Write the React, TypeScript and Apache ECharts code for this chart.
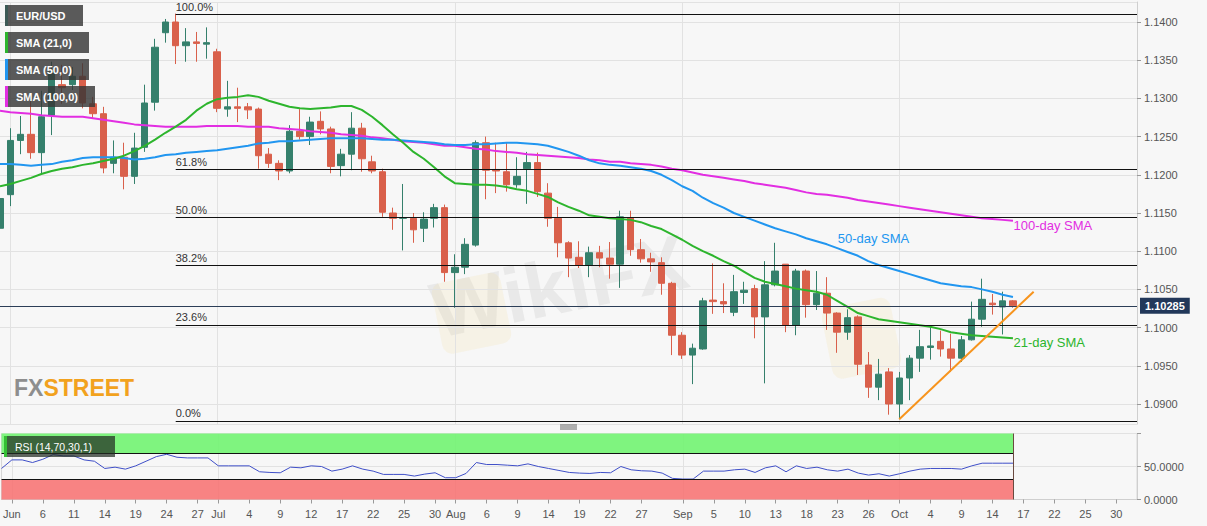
import React, { useEffect, useRef } from 'react';
import * as echarts from 'echarts';

// ---------- categories (trading days, May 31 .. Nov 1 2019) ----------
const CATEGORIES = [
  '05-31',
  '06-03','06-04','06-05','06-06','06-07','06-10','06-11','06-12','06-13','06-14',
  '06-17','06-18','06-19','06-20','06-21','06-24','06-25','06-26','06-27','06-28',
  '07-01','07-02','07-03','07-04','07-05','07-08','07-09','07-10','07-11','07-12',
  '07-15','07-16','07-17','07-18','07-19','07-22','07-23','07-24','07-25','07-26',
  '07-29','07-30','07-31',
  '08-01','08-02','08-05','08-06','08-07','08-08','08-09','08-12','08-13','08-14',
  '08-15','08-16','08-19','08-20','08-21','08-22','08-23','08-26','08-27','08-28',
  '08-29','08-30',
  '09-02','09-03','09-04','09-05','09-06','09-09','09-10','09-11','09-12','09-13',
  '09-16','09-17','09-18','09-19','09-20','09-23','09-24','09-25','09-26','09-27','09-30',
  '10-01','10-02','10-03','10-04','10-07','10-08','10-09','10-10','10-11','10-14',
  '10-15','10-16','10-17','10-18','10-21','10-22','10-23','10-24','10-25','10-28',
  '10-29','10-30','10-31',
  '11-01'
];

// ---------- tick labels ----------
const TICK_DAYS = [
  '06-03','06-06','06-11','06-14','06-19','06-24','06-27',
  '07-01','07-04','07-09','07-12','07-17','07-22','07-25','07-30',
  '08-01','08-06','08-09','08-14','08-19','08-22','08-27',
  '09-02','09-05','09-10','09-13','09-18','09-23','09-26',
  '10-01','10-04','10-09','10-14','10-17','10-22','10-25','10-30'
];
const MONTH_LABELS: Record<string, string> = {
  '06-03': 'Jun', '07-01': 'Jul', '08-01': 'Aug', '09-02': 'Sep', '10-01': 'Oct'
};
const MONTH_STARTS = ['06-03', '07-01', '08-01', '09-02', '10-01'];

// ---------- OHLC (May 31 .. Oct 16) ----------
const OPEN = [
  1.1130, 1.1174, 1.1245, 1.1253, 1.1229, 1.1278, 1.1318, 1.1318, 1.1329, 1.1293,
  1.1280, 1.1215, 1.1223, 1.1198, 1.1236, 1.1295, 1.1386, 1.1400, 1.1369, 1.1374,
  1.1371, 1.1361, 1.1286, 1.1289, 1.1289, 1.1286, 1.1227, 1.1215, 1.1205, 1.1257,
  1.1250, 1.1270, 1.1260, 1.1212, 1.1227, 1.1261, 1.1217, 1.1204, 1.1150, 1.1143,
  1.1143, 1.1130, 1.1143, 1.1157, 1.1072, 1.1079, 1.1108, 1.1242, 1.1207, 1.1204,
  1.1187, 1.1208, 1.1216, 1.1176, 1.1143, 1.1111, 1.1092, 1.1082, 1.1098, 1.1091,
  1.1083, 1.1144, 1.1102, 1.1090, 1.1085, 1.1058, 1.0990, 1.0964, 1.0972, 1.1036,
  1.1034, 1.1020, 1.1046, 1.1051, 1.1014, 1.1056, 1.1083, 1.1003, 1.1074, 1.1030,
  1.1045, 1.1019, 1.0994, 1.1014, 1.0951, 1.0922, 1.0942, 1.0900, 1.0934, 1.0960,
  1.0974, 1.0982, 1.0972, 1.0960, 1.0984, 1.1011, 1.1032, 1.1027, 1.1035
];
const HIGH = [
  1.1182, 1.1261, 1.1277, 1.1306, 1.1310, 1.1348, 1.1344, 1.1341, 1.1346, 1.1302,
  1.1289, 1.1245, 1.1242, 1.1255, 1.1318, 1.1378, 1.1404, 1.1411, 1.1392, 1.1387,
  1.1393, 1.1365, 1.1323, 1.1314, 1.1294, 1.1288, 1.1235, 1.1219, 1.1265, 1.1286,
  1.1276, 1.1283, 1.1263, 1.1234, 1.1282, 1.1268, 1.1225, 1.1208, 1.1157, 1.1188,
  1.1150, 1.1151, 1.1162, 1.1161, 1.1096, 1.1117, 1.1245, 1.1250, 1.1242, 1.1242,
  1.1223, 1.1230, 1.1229, 1.1189, 1.1158, 1.1113, 1.1113, 1.1106, 1.1107, 1.1112,
  1.1153, 1.1153, 1.1116, 1.1098, 1.1092, 1.1060, 1.0994, 1.0979, 1.1039, 1.1084,
  1.1058, 1.1069, 1.1060, 1.1056, 1.1087, 1.1111, 1.1083, 1.1077, 1.1076, 1.1074,
  1.1066, 1.1020, 1.1024, 1.1016, 1.0968, 1.0959, 1.0947, 1.0942, 1.0964, 1.0997,
  1.1001, 1.0996, 1.0992, 1.0989, 1.1034, 1.1064, 1.1044, 1.1047, 1.1036
];
const LOW = [
  1.1117, 1.1159, 1.1227, 1.1221, 1.1202, 1.1252, 1.1293, 1.1311, 1.1287, 1.1274,
  1.1202, 1.1202, 1.1181, 1.1188, 1.1230, 1.1284, 1.1373, 1.1345, 1.1348, 1.1348,
  1.1352, 1.1282, 1.1276, 1.1269, 1.1273, 1.1208, 1.1209, 1.1193, 1.1202, 1.1246,
  1.1239, 1.1253, 1.1202, 1.1198, 1.1206, 1.1204, 1.1202, 1.1145, 1.1128, 1.1101,
  1.1111, 1.1112, 1.1131, 1.1060, 1.1026, 1.1070, 1.1106, 1.1168, 1.1176, 1.1178,
  1.1183, 1.1162, 1.1171, 1.1132, 1.1092, 1.1066, 1.1078, 1.1066, 1.1079, 1.1064,
  1.1052, 1.1094, 1.1085, 1.1073, 1.1043, 1.0964, 1.0959, 1.0926, 1.0971, 1.1018,
  1.1019, 1.1015, 1.1031, 1.0986, 1.0927, 1.1054, 1.0994, 1.0990, 1.1013, 1.1023,
  1.0997, 1.0967, 1.0984, 1.0938, 1.0908, 1.0905, 1.0886, 1.0880, 1.0905, 1.0942,
  1.0958, 1.0962, 1.0942, 1.0955, 1.0983, 1.1001, 1.1017, 1.0991, 1.1026
];
const CLOSE = [
  1.1169, 1.1245, 1.1253, 1.1229, 1.1276, 1.1335, 1.1314, 1.1329, 1.1294, 1.1280,
  1.1209, 1.1223, 1.1198, 1.1235, 1.1294, 1.1367, 1.1400, 1.1369, 1.1374, 1.1372,
  1.1373, 1.1287, 1.1289, 1.1287, 1.1285, 1.1225, 1.1215, 1.1205, 1.1257, 1.1250,
  1.1269, 1.1260, 1.1211, 1.1227, 1.1261, 1.1221, 1.1205, 1.1151, 1.1143, 1.1144,
  1.1128, 1.1142, 1.1157, 1.1072, 1.1079, 1.1109, 1.1242, 1.1206, 1.1205, 1.1187,
  1.1198, 1.1216, 1.1178, 1.1143, 1.1111, 1.1091, 1.1082, 1.1098, 1.1091, 1.1083,
  1.1145, 1.1102, 1.1090, 1.1086, 1.1058, 1.0990, 1.0964, 1.0973, 1.1035, 1.1034,
  1.1031, 1.1047, 1.1049, 1.1014, 1.1056, 1.1074, 1.1003, 1.1074, 1.1030, 1.1045,
  1.1019, 1.0994, 1.1013, 1.0952, 1.0922, 1.0939, 1.0900, 1.0934, 1.0960, 1.0975,
  1.0976, 1.0972, 1.0960, 1.0984, 1.1011, 1.1037, 1.1030, 1.1035, 1.10285
];

// ---------- moving averages ----------
const SMA21 = [
  1.1185, 1.1188, 1.1192, 1.1196, 1.1201, 1.1205, 1.1208, 1.1210, 1.1213, 1.1215,
  1.1218, 1.1221, 1.1225, 1.1231, 1.1238, 1.1246, 1.1255, 1.1263, 1.1272, 1.1284,
  1.1293, 1.1299, 1.1301, 1.1302, 1.1304, 1.1302, 1.1297, 1.1293, 1.1289, 1.1287,
  1.1286, 1.1287, 1.1288, 1.1290, 1.1290, 1.1285, 1.1276, 1.1265, 1.1253, 1.1242,
  1.1230, 1.1221, 1.1210, 1.1198, 1.1189, 1.1188, 1.1187, 1.1187, 1.1186, 1.1184,
  1.1181, 1.1179, 1.1175, 1.1171, 1.1164, 1.1158, 1.1153, 1.1147, 1.1145, 1.1143,
  1.1142, 1.1141, 1.1138, 1.1133, 1.1129, 1.1122, 1.1115, 1.1107, 1.1100, 1.1094,
  1.1087, 1.1081, 1.1073, 1.1065, 1.1060, 1.1057, 1.1054, 1.1051, 1.1049, 1.1047,
  1.1043, 1.1035, 1.1027, 1.1019, 1.1015, 1.1011, 1.1009, 1.1007, 1.1005, 1.1003,
  1.1001, 1.0998, 1.0994, 1.0992, 1.0990, 1.0989, 1.0988, 1.0987, 1.0986
];
const SMA50 = [
  1.1214, 1.1214, 1.1213, 1.1212, 1.1213, 1.1214, 1.1217, 1.1219, 1.1222, 1.1223,
  1.1223, 1.1223, 1.1222, 1.1220, 1.1221, 1.1223, 1.1226, 1.1227, 1.1229, 1.1230,
  1.1231, 1.1232, 1.1234, 1.1236, 1.1238, 1.1241, 1.1242, 1.1244, 1.1244, 1.1245,
  1.1246, 1.1247, 1.1248, 1.1248, 1.1248, 1.1248, 1.1247, 1.1246, 1.1246, 1.1245,
  1.1244, 1.1243, 1.1242, 1.1240, 1.1239, 1.1239, 1.1240, 1.1240, 1.1241, 1.1242,
  1.1242, 1.1241, 1.1240, 1.1238, 1.1234, 1.1230, 1.1225, 1.1219, 1.1215, 1.1213,
  1.1212, 1.1210, 1.1208, 1.1205, 1.1200, 1.1193, 1.1185, 1.1179, 1.1170, 1.1163,
  1.1157, 1.1150, 1.1145, 1.1140, 1.1135, 1.1130, 1.1126, 1.1122, 1.1117, 1.1113,
  1.1109, 1.1104, 1.1099, 1.1094, 1.1087, 1.1082, 1.1078, 1.1074, 1.1070, 1.1066,
  1.1062, 1.1058, 1.1056, 1.1054, 1.1053, 1.1050, 1.1047, 1.1043, 1.1040
];
const SMA100 = [
  1.1284, 1.1282, 1.1281, 1.1280, 1.1278, 1.1277, 1.1276, 1.1276, 1.1276, 1.1274,
  1.1272, 1.1270, 1.1268, 1.1266, 1.1265, 1.1264, 1.1263, 1.1263, 1.1263, 1.1263,
  1.1264, 1.1264, 1.1264, 1.1264, 1.1263, 1.1263, 1.1263, 1.1261, 1.1260, 1.1259,
  1.1257, 1.1256, 1.1255, 1.1253, 1.1252, 1.1251, 1.1249, 1.1248, 1.1246, 1.1244,
  1.1243, 1.1242, 1.1240, 1.1238, 1.1238, 1.1236, 1.1234, 1.1233, 1.1231, 1.1230,
  1.1229, 1.1227, 1.1226, 1.1225, 1.1224, 1.1223, 1.1222, 1.1220, 1.1219, 1.1217,
  1.1217, 1.1215, 1.1214, 1.1213, 1.1211, 1.1208, 1.1206, 1.1203, 1.1200, 1.1198,
  1.1196, 1.1194, 1.1192, 1.1189, 1.1187, 1.1185, 1.1183, 1.1180, 1.1177, 1.1175,
  1.1174, 1.1172, 1.1170, 1.1167, 1.1165, 1.1163, 1.1161, 1.1159, 1.1157, 1.1155,
  1.1153, 1.1151, 1.1149, 1.1147, 1.1145, 1.1143, 1.1142, 1.1141, 1.1140
];

// ---------- RSI (14) ----------
const RSI = [
  47, 60, 60, 56, 61, 68, 66, 66, 60, 58,
  47, 49, 46, 51, 58, 65, 68.5, 64, 63, 63,
  63, 51, 51, 51, 51, 42, 41, 40.5, 49, 48,
  51, 50, 43, 46, 51, 46, 43, 38, 38, 38,
  35.5, 38.5, 40.5, 33, 33, 39.5, 56, 53, 53, 52,
  51, 54, 50, 47, 44, 41, 40, 39.5, 41, 40.5,
  50, 45, 43.5, 43, 40, 32, 31, 31, 43, 43,
  43, 45, 46, 41, 48, 51, 42, 51, 47, 49,
  45, 43, 46, 40, 37, 39, 35.5, 39, 43, 46,
  47, 47, 47, 46, 51, 55, 55, 55, 55
];

// ---------- Fibonacci retracement ----------
const FIB_HIGH = 1.1410;
const FIB_LOW = 1.0878;
const FIB_RATIOS = [1, 0.618, 0.5, 0.382, 0.236, 0];
const FIB_LABELS = ['100.0%', '61.8%', '50.0%', '38.2%', '23.6%', '0.0%'];
const FIB_START = '06-25';
const LAST_PRICE = 1.10285;
const TREND_FROM: [string, number] = ['10-01', 1.0880];
const TREND_TO: [string, number] = ['10-18', 1.1047];

const GREEN = '#35806c';
const RED = '#d9604b';
const C21 = '#2db52d';
const C50 = '#2196f0';
const C100 = '#e22ee2';
const FONT = 'Liberation Sans, Arial, sans-serif';

export default function App() {
  const ref = useRef<HTMLDivElement>(null);
  useEffect(() => {
    if (!ref.current) return;
    const chart = echarts.init(ref.current, undefined, { renderer: 'svg' });
    const lastCat = CATEGORIES[CATEGORIES.length - 1];
    const lastData = CATEGORIES[CLOSE.length - 1];

    const candleData = OPEN.map((o, i) => [o, CLOSE[i], LOW[i], HIGH[i]]);

    const fibLines = FIB_RATIOS.map((r, k) => {
      const p = FIB_LOW + r * (FIB_HIGH - FIB_LOW);
      return [
        {
          coord: [FIB_START, p],
          lineStyle: { color: '#111', width: 1, type: 'solid' },
          label: {
            show: true,
            position: 'insideStartTop',
            formatter: FIB_LABELS[k],
            color: '#333',
            fontSize: 11,
            fontFamily: FONT,
            distance: [0, 2],
          },
        },
        { coord: [lastCat, p] },
      ];
    });

    const labelPoint = (cat: string, val: number, text: string, color: string) => ({
      coord: [cat, val],
      symbol: 'circle',
      symbolSize: 1,
      itemStyle: { color: 'rgba(0,0,0,0)' },
      label: {
        show: true,
        position: 'right',
        distance: 0,
        formatter: text,
        color,
        fontSize: 13,
        fontFamily: FONT,
      },
    });

    const isTick = (_i: number, v: string) => TICK_DAYS.includes(v);
    const isMonth = (_i: number, v: string) => MONTH_STARTS.includes(v);

    const legendBox = (y: number, w: number, text: string, strip: string) => ({
      type: 'group',
      x: 5,
      y,
      children: [
        { type: 'rect', z: 100, shape: { x: 0, y: 0, width: w, height: 21 }, style: { fill: 'rgba(55,55,55,0.82)' } },
        { type: 'rect', z: 101, shape: { x: 0, y: 0, width: 3, height: 21 }, style: { fill: strip } },
        {
          type: 'text',
          z: 102,
          x: 11,
          y: 10.5,
          style: { text, fill: '#fff', font: `bold 11px ${FONT}`, textVerticalAlign: 'middle' },
        },
      ],
    });

    const option: any = {
      animation: false,
      backgroundColor: '#f7f7f7',
      grid: [
        { left: 0, top: 2, width: 1137, height: 422 },
        { left: 0, top: 433.5, width: 1137, height: 66, show: true, borderColor: '#d6d6d6', borderWidth: 1 },
      ],
      xAxis: [
        {
          type: 'category',
          gridIndex: 0,
          data: CATEGORIES,
          boundaryGap: false,
          axisLine: { show: false },
          axisTick: { show: false },
          axisLabel: { show: false },
          splitLine: { show: true, interval: isMonth, lineStyle: { color: '#e2e2e2', width: 1 } },
        },
        {
          type: 'category',
          gridIndex: 1,
          data: CATEGORIES,
          boundaryGap: false,
          axisLine: { show: true, lineStyle: { color: '#cfcfcf' } },
          axisTick: { show: true, interval: isTick, length: 4, lineStyle: { color: '#999' } },
          axisLabel: {
            show: true,
            interval: isTick,
            formatter: (v: string) => MONTH_LABELS[v] ?? String(Number(v.slice(3))),
            color: '#555',
            fontSize: 11,
            fontFamily: FONT,
            margin: 9,
          },
          splitLine: { show: true, interval: isMonth, lineStyle: { color: '#e2e2e2', width: 1 } },
        },
      ],
      yAxis: [
        {
          type: 'value',
          gridIndex: 0,
          position: 'right',
          min: 1.08738,
          max: 1.14262,
          splitNumber: 11,
          minInterval: 0.005,
          maxInterval: 0.005,
          axisLine: { show: true, lineStyle: { color: '#cfcfcf' } },
          axisTick: { show: true, length: 4, lineStyle: { color: '#999' } },
          axisLabel: {
            showMinLabel: false,
            showMaxLabel: false,
            color: '#555',
            fontSize: 11,
            fontFamily: FONT,
            margin: 7,
            formatter: (v: number) =>
              Math.abs(v * 200 - Math.round(v * 200)) < 1e-6 ? v.toFixed(4) : '',
          },
          splitLine: { show: true, lineStyle: { color: '#e2e2e2', width: 1 } },
        },
        {
          type: 'value',
          gridIndex: 1,
          position: 'right',
          min: 0,
          max: 100,
          interval: 50,
          axisLine: { show: true, lineStyle: { color: '#cfcfcf' } },
          axisTick: { show: true, length: 4, lineStyle: { color: '#999' } },
          axisLabel: {
            color: '#555',
            fontSize: 11,
            fontFamily: FONT,
            margin: 7,
            formatter: (v: number) => (v >= 100 ? '' : v.toFixed(4)),
          },
          splitLine: { show: true, lineStyle: { color: '#e2e2e2', width: 1 } },
        },
      ],
      series: [
        {
          type: 'candlestick',
          xAxisIndex: 0,
          yAxisIndex: 0,
          data: candleData,
          barWidth: 7,
          itemStyle: { color: GREEN, color0: RED, borderColor: GREEN, borderColor0: RED, borderWidth: 1 },
          markLine: {
            silent: true,
            symbol: ['none', 'none'],
            precision: 5,
            animation: false,
            data: [
              ...fibLines,
              {
                yAxis: LAST_PRICE,
                lineStyle: { color: '#2c3e57', width: 1, type: 'solid' },
                label: {
                  show: true,
                  position: 'end',
                  formatter: '1.10285',
                  backgroundColor: '#22385a',
                  color: '#fff',
                  fontWeight: 'bold',
                  fontSize: 11,
                  fontFamily: FONT,
                  padding: [3, 5, 2, 5],
                  distance: 3,
                },
              },
              [
                {
                  coord: TREND_FROM,
                  lineStyle: { color: '#f7941d', width: 2, type: 'solid' },
                  label: { show: false },
                },
                { coord: TREND_TO },
              ],
            ],
          },
        },
        {
          type: 'line',
          name: 'SMA100',
          xAxisIndex: 0,
          yAxisIndex: 0,
          data: SMA100,
          symbol: 'none',
          lineStyle: { color: C100, width: 2 },
          itemStyle: { color: C100 },
          z: 3,
          markPoint: { silent: true, data: [labelPoint(lastData, 1.1133, '100-day SMA', C100)] },
        },
        {
          type: 'line',
          name: 'SMA50',
          xAxisIndex: 0,
          yAxisIndex: 0,
          data: SMA50,
          symbol: 'none',
          lineStyle: { color: C50, width: 2 },
          itemStyle: { color: C50 },
          z: 3,
          markPoint: { silent: true, data: [labelPoint('09-23', 1.1116, '50-day SMA', C50)] },
        },
        {
          type: 'line',
          name: 'SMA21',
          xAxisIndex: 0,
          yAxisIndex: 0,
          data: SMA21,
          symbol: 'none',
          lineStyle: { color: C21, width: 2 },
          itemStyle: { color: C21 },
          z: 3,
          markPoint: { silent: true, data: [labelPoint(lastData, 1.0980, '21-day SMA', C21)] },
        },
        {
          type: 'line',
          name: 'RSI',
          xAxisIndex: 1,
          yAxisIndex: 1,
          data: RSI,
          symbol: 'none',
          lineStyle: { color: '#3f4fc8', width: 1 },
          itemStyle: { color: '#3f4fc8' },
          z: 4,
          markArea: {
            silent: true,
            data: [
              [
                { xAxis: CATEGORIES[0], yAxis: 70, itemStyle: { color: 'rgba(110,244,110,0.88)' } },
                { xAxis: lastData, yAxis: 100 },
              ],
              [
                { xAxis: CATEGORIES[0], yAxis: 0, itemStyle: { color: 'rgba(247,118,118,0.9)' } },
                { xAxis: lastData, yAxis: 30 },
              ],
            ],
          },
          markLine: {
            silent: true,
            symbol: ['none', 'none'],
            label: { show: false },
            lineStyle: { color: '#111', width: 1, type: 'solid' },
            data: [
              [{ coord: [CATEGORIES[0], 70] }, { coord: [lastData, 70] }],
              [{ coord: [CATEGORIES[0], 30] }, { coord: [lastData, 30] }],
              [
                { coord: [lastData, 0], lineStyle: { color: '#6a4a40', width: 1, type: 'solid' } },
                { coord: [lastData, 100] },
              ],
            ],
          },
        },
      ],
      graphic: [
        // faint watermark
        {
          type: 'text',
          x: 440,
          y: 350,
          rotation: 0.2,
          z: 0,
          silent: true,
          style: { text: 'WikiFX', fill: 'rgba(120,120,120,0.10)', font: `bold 78px ${FONT}`, textVerticalAlign: 'bottom' },
        },
        {
          type: 'rect',
          x: 430,
          y: 285,
          rotation: 0.2,
          z: 0,
          silent: true,
          shape: { x: 0, y: 0, width: 70, height: 72, r: 10 },
          style: { fill: 'rgba(245,215,140,0.16)' },
        },
        {
          type: 'rect',
          x: 820,
          y: 310,
          rotation: 0.2,
          z: 0,
          silent: true,
          shape: { x: 0, y: 0, width: 70, height: 72, r: 10 },
          style: { fill: 'rgba(245,215,140,0.16)' },
        },
        // FXSTREET logo
        {
          type: 'text',
          x: 14,
          y: 388,
          z: 1,
          silent: true,
          style: {
            text: '{a|FX}{b|STREET}',
            textVerticalAlign: 'middle',
            rich: {
              a: { fill: '#8e8e8e', font: `bold 23px ${FONT}` },
              b: { fill: '#f2a21e', font: `bold 23px ${FONT}` },
            },
          },
        },
        // legend boxes
        legendBox(5, 78, 'EUR/USD', '#3d5a56'),
        legendBox(32, 84, 'SMA (21,0)', C21),
        legendBox(59, 84, 'SMA (50,0)', C50),
        legendBox(86, 90, 'SMA (100,0)', C100),
        // RSI label
        {
          type: 'group',
          x: 4,
          y: 436,
          children: [
            { type: 'rect', z: 100, shape: { x: 0, y: 0, width: 111, height: 21 }, style: { fill: 'rgba(35,45,35,0.72)' } },
            { type: 'rect', z: 101, shape: { x: 0, y: 0, width: 3, height: 21 }, style: { fill: '#35c035' } },
            {
              type: 'text',
              z: 102,
              x: 11,
              y: 10.5,
              style: { text: 'RSI (14,70,30,1)', fill: '#fff', font: `10.5px ${FONT}`, textVerticalAlign: 'middle' },
            },
          ],
        },
        // pane separator handle
        { type: 'line', z: 50, shape: { x1: 560, y1: 425, x2: 577, y2: 425 }, style: { stroke: '#666', lineWidth: 1 } },
        { type: 'line', z: 50, shape: { x1: 560, y1: 427, x2: 577, y2: 427 }, style: { stroke: '#666', lineWidth: 1 } },
        { type: 'line', z: 50, shape: { x1: 560, y1: 429, x2: 577, y2: 429 }, style: { stroke: '#666', lineWidth: 1 } },
      ],
    };

    chart.setOption(option);
    return () => chart.dispose();
  }, []);

  return (
    <div
      ref={ref}
      style={{ position: 'absolute', left: 0, top: 0, width: 1207, height: 526 }}
    />
  );
}
